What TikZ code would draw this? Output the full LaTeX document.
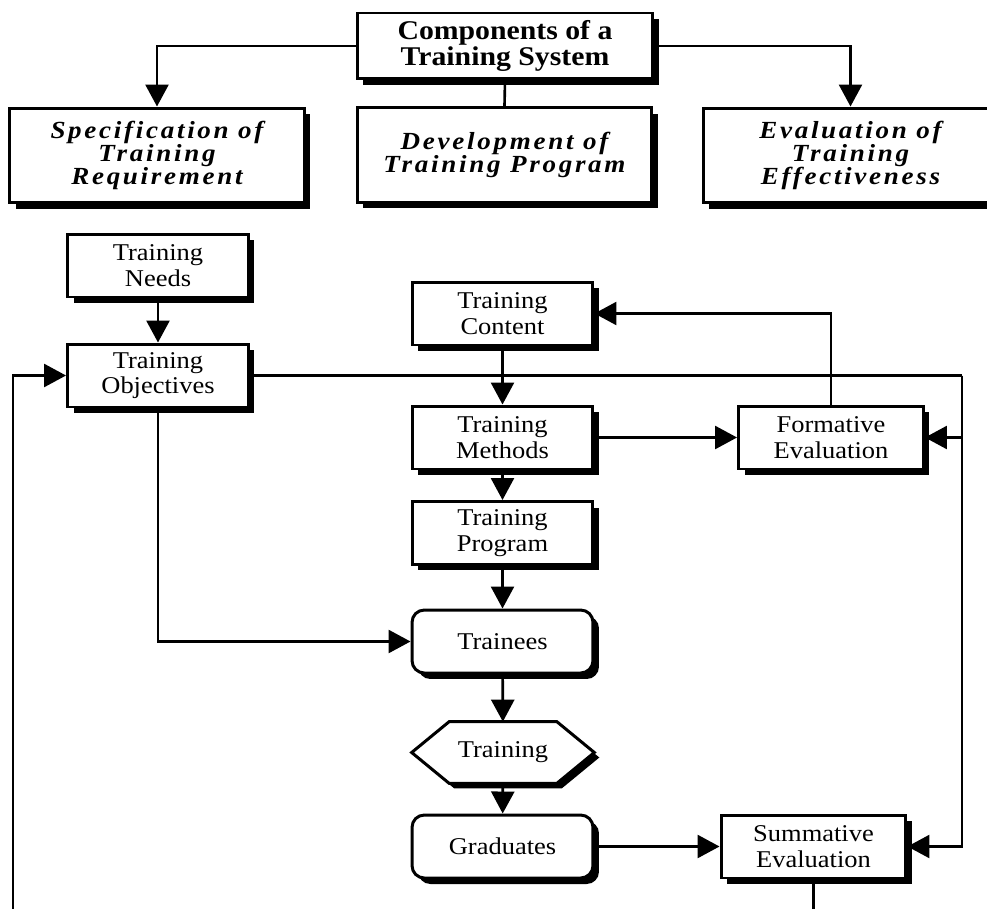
\documentclass[tikz,border=0pt]{standalone}
\usepackage{fontspec}
\setmainfont[FakeStretch=1.1]{Liberation Serif}
\newfontfamily\spacedserif[FakeStretch=1.1,LetterSpace=11]{Liberation Serif}
\usetikzlibrary{arrows.meta, shadows, backgrounds}

% hexagon outline round a node, #2 is a shift
\newcommand{\hexoutline}[2]{([shift={#2}]#1.west)
  -- ([shift={#2}, xshift=0.75cm]#1.north west)
  -- ([shift={#2}, xshift=-0.75cm]#1.north east)
  -- ([shift={#2}]#1.east)
  -- ([shift={#2}, xshift=-0.75cm]#1.south east)
  -- ([shift={#2}, xshift=0.75cm]#1.south west) -- cycle}

\begin{document}
\begin{tikzpicture}[
  x=0.02cm, y=-0.02cm,
  box/.style={draw, line width=1.7pt, fill=white, align=center, inner sep=1pt,
              font=\fontsize{13.7}{14.4}\selectfont,
              drop shadow={shadow xshift=0.12cm, shadow yshift=-0.12cm,
                           fill=black, opacity=1}},
  titlebox/.style={box, minimum width=5.92cm, minimum height=1.32cm,
                   font=\fontsize{15.4}{13.8}\selectfont\bfseries},
  compbox/.style={box, minimum width=5.9cm, minimum height=1.9cm,
                  font=\spacedserif\fontsize{14}{13}\selectfont\bfseries\itshape},
  proc/.style={box, minimum width=3.62cm, minimum height=1.26cm},
  evalbox/.style={proc, minimum width=3.7cm},
  pill/.style={proc, rounded corners=7pt},
  hexa/.style={minimum width=3.64cm, minimum height=1.22cm,
               font=\fontsize{13.7}{14.4}\selectfont},
  arr/.style={-{Triangle[length=0.44cm, width=0.46cm]}, line width=1.5pt},
  link/.style={line width=1.5pt},
]
\useasboundingbox (0,0) rectangle (987,909);
\clip (0,0) rectangle (987,909);

% Top level
\node[titlebox] (comp) at (505,46) {Components of a\\Training System};
\node[compbox] (spec) at (157,155.5) {Specification of\\Training\\Requirement};
\node[compbox] (devel) at (504.5,155) {Development of\\Training Program};
\node[compbox] (evalc) at (850.5,155.5) {Evaluation of\\Training\\Effectiveness};

\draw[arr] (comp.west) -| (spec.north);
\draw[arr] (comp.east) -| (evalc.north);
\draw[link] (comp.south) -- (devel.north);

% Requirement column
\node[proc] (needs) at (158,265.5) {Training\\Needs};
\node[proc] (obj) at (158,375.5) {Training\\Objectives};

% Development column
\node[proc] (content) at (502.5,313.5) {Training\\Content};
\node[proc] (methods) at (502.5,437.5) {Training\\Methods};
\node[proc] (program) at (502.5,533) {Training\\Program};
\node[pill] (trainees) at (502.5,641.5) {Trainees};
\node[hexa] (trng) at (503,752.5) {Training};
\node[pill] (grads) at (502.5,846.5) {Graduates};

% Evaluation column
\node[evalbox] (form) at (831,437.5) {Formative\\Evaluation};
\node[evalbox] (summ) at (813.5,846.5) {Summative\\Evaluation};

\begin{scope}[on background layer]
  \fill[black] \hexoutline{trng}{(0.1cm,-0.1cm)};
  \draw[line width=1.7pt, fill=white] \hexoutline{trng}{(0,0)};
\end{scope}

\coordinate (rtop) at (962,375.5);
\coordinate (lbot) at (13,940);

\draw[arr] (needs) -- (obj);
\draw[arr] (content) -- (methods);
\draw[arr] (methods) -- (program);
\draw[arr] (program) -- (trainees);
\draw[arr] (trainees) -- (trng);
\draw[arr] (trng) -- (grads);
\draw[arr] (methods) -- (form);
\draw[arr] (grads) -- (summ);
\draw[arr] (obj.south) |- (trainees.west);
\draw[arr] (form.north) |- (content.east);

% feedback lines
\draw[link] (obj.east) -- (rtop);
\draw[arr] (rtop) |- (form.east);
\draw[arr] (rtop) |- (summ.east);
\draw[arr] (summ.south) |- (lbot) |- (obj.west);
\end{tikzpicture}
\end{document}
